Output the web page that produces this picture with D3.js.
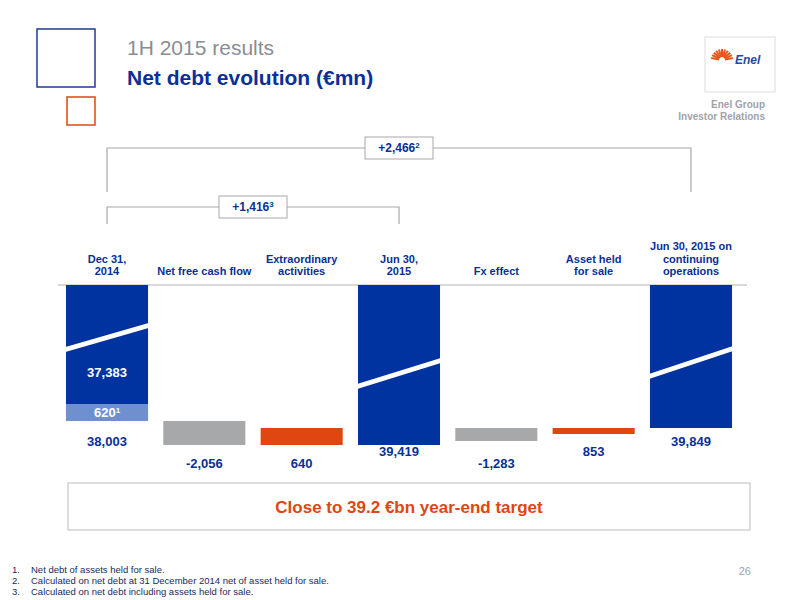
<!DOCTYPE html><html><head><meta charset="utf-8"><script src="https://cdn.jsdelivr.net/npm/d3@7"></script>
<style>body{margin:0;background:#fff}text{font-family:Arial,"Liberation Sans",sans-serif}</style></head><body><svg id="c" width="800" height="600"></svg>
<script>
const categories=[["Dec 31,","2014"],["Net free cash flow"],["Extraordinary","activities"],["Jun 30,","2015"],["Fx effect"],["Asset held","for sale"],["Jun 30, 2015 on","continuing","operations"]];
const values=["38,003","-2,056","640","39,419","-1,283","853","39,849"];
const kinds=["total","neg","pos","total","neg","pos","total"];
// visual (broken-axis) levels, display units
const barTop=[0,136,143,0,143,143,0];
const barBottom=[136,160,160,160,156,149,143];
const labelY=[446,468,468,456,468,456,446];
const colors={total:"#0033a0",neg:"#a7a8aa",pos:"#e0460f"};
const svg=d3.select("#c");
const x=d3.scaleBand().domain(d3.range(7)).range([50.7,747.3]).paddingInner(0.157).paddingOuter(0.157);
const y=d3.scaleLinear().domain([0,200]).range([285,485]);
const blue="#0a2f96";
// header
svg.append("rect").attr("x",37).attr("y",29).attr("width",58).attr("height",58).attr("fill","none").attr("stroke","#1f3a93").attr("stroke-width",1.5);
svg.append("rect").attr("x",67).attr("y",97).attr("width",28).attr("height",28).attr("fill","none").attr("stroke","#e0460f").attr("stroke-width",1.5);
svg.append("text").attr("x",127).attr("y",55).attr("font-size",21).attr("fill","#8a8d93").text("1H 2015 results");
svg.append("text").attr("x",127).attr("y",85).attr("font-size",21).attr("font-weight","bold").attr("fill",blue).text("Net debt evolution (€mn)");
svg.append("rect").attr("x",705).attr("y",37).attr("width",70).attr("height",55).attr("fill","#fff").attr("stroke","#ddd");
const sun=svg.append("g").attr("transform","translate(722,60)");
d3.range(11).forEach(i=>{const a=(-170+i*16)*Math.PI/180;sun.append("line").attr("x1",Math.cos(a)*3).attr("y1",Math.sin(a)*3).attr("x2",Math.cos(a)*11).attr("y2",Math.sin(a)*11).attr("stroke","#e8591a").attr("stroke-width",2);});
svg.append("text").attr("x",735).attr("y",64).attr("font-size",12).attr("font-weight","bold").attr("font-style","italic").attr("fill","#1f4aa8").text("Enel");
svg.append("text").attr("x",765).attr("y",108).attr("text-anchor","end").attr("font-size",10).attr("font-weight","bold").attr("fill","#a0a3a8").text("Enel Group");
svg.append("text").attr("x",765).attr("y",120).attr("text-anchor","end").attr("font-size",10).attr("font-weight","bold").attr("fill","#a0a3a8").text("Investor Relations");
// brackets
const cx=i=>x(i)+x.bandwidth()/2;
function bracket(i0,i1,yl,yb,label,sup){
  svg.append("path").attr("d",`M${cx(i0)},${yb}V${yl}H${cx(i1)}V${yb}`).attr("fill","none").attr("stroke","#a7a8aa").attr("stroke-width",1.2);
  const m=(cx(i0)+cx(i1))/2, w=68;
  svg.append("rect").attr("x",m-w/2).attr("y",yl-11).attr("width",w).attr("height",22).attr("fill","#fff").attr("stroke","#a7a8aa");
  const t=svg.append("text").attr("x",m).attr("y",yl+4).attr("text-anchor","middle").attr("font-size",12).attr("font-weight","bold").attr("fill",blue).text(label);
  t.append("tspan").attr("font-size",8).attr("dy",-4).text(sup);
}
bracket(0,6,148,192,"+2,466","2");
bracket(0,3,207,224,"+1,416","3");
// category labels
categories.forEach((c,i)=>{c.forEach((l,j)=>svg.append("text").attr("x",cx(i)).attr("y",275-(c.length-1-j)*12.5).attr("text-anchor","middle").attr("font-size",11).attr("font-weight","bold").attr("fill",blue).text(l));});
svg.append("line").attr("x1",58).attr("x2",747).attr("y1",y(0)).attr("y2",y(0)).attr("stroke","#ccc").attr("stroke-width",1.5);
// bars
svg.selectAll(".bar").data(d3.range(7)).join("rect").attr("x",i=>x(i)).attr("width",x.bandwidth()).attr("y",i=>y(barTop[i])).attr("height",i=>y(barBottom[i])-y(barTop[i])).attr("fill",i=>colors[kinds[i]]);
svg.append("rect").attr("x",x(0)).attr("width",x.bandwidth()).attr("y",y(119)).attr("height",y(136)-y(119)).attr("fill","#6f8fcf");
// break marks
[[0,63,37],[3,100,72],[6,90,60]].forEach(([i,a,b])=>{
  const x0=x(i)-4,x1=x(i)+x.bandwidth()+4;
  svg.append("path").attr("d",`M${x0},${y(a)}L${x1},${y(b)}L${x1},${y(b)+5}L${x0},${y(a)+5}Z`).attr("fill","#fff");
});
// value labels
const lab=(i,t,yy,col)=>svg.append("text").attr("x",cx(i)).attr("y",yy).attr("text-anchor","middle").attr("font-size",13).attr("font-weight","bold").attr("fill",col||blue).text(t);
lab(0,"37,383",377,"#fff");
const t620=lab(0,"620",417,"#fff");t620.append("tspan").attr("font-size",8).attr("dy",-4).text("1");
values.forEach((v,i)=>lab(i,v,labelY[i]));
// box
svg.append("rect").attr("x",68).attr("y",483).attr("width",682).attr("height",47).attr("fill","#fff").attr("stroke","#bbb");
svg.append("text").attr("x",409).attr("y",513).attr("text-anchor","middle").attr("font-size",17).attr("font-weight","bold").attr("fill","#e0460f").text("Close to 39.2 €bn year-end target");
const notes=["Net debt of assets held for sale.","Calculated on net debt at 31 December 2014 net of asset held for sale.","Calculated on net debt including assets held for sale."];
notes.forEach((n,i)=>{svg.append("text").attr("x",12).attr("y",573+i*11).attr("font-size",9.5).attr("fill","#1a2a5a").text((i+1)+".");svg.append("text").attr("x",31).attr("y",573+i*11).attr("font-size",9.5).attr("fill","#1a2a5a").text(n);});
svg.append("text").attr("x",751).attr("y",575).attr("text-anchor","end").attr("font-size",11).attr("fill","#a0a3a8").text("26");
</script></body></html>
